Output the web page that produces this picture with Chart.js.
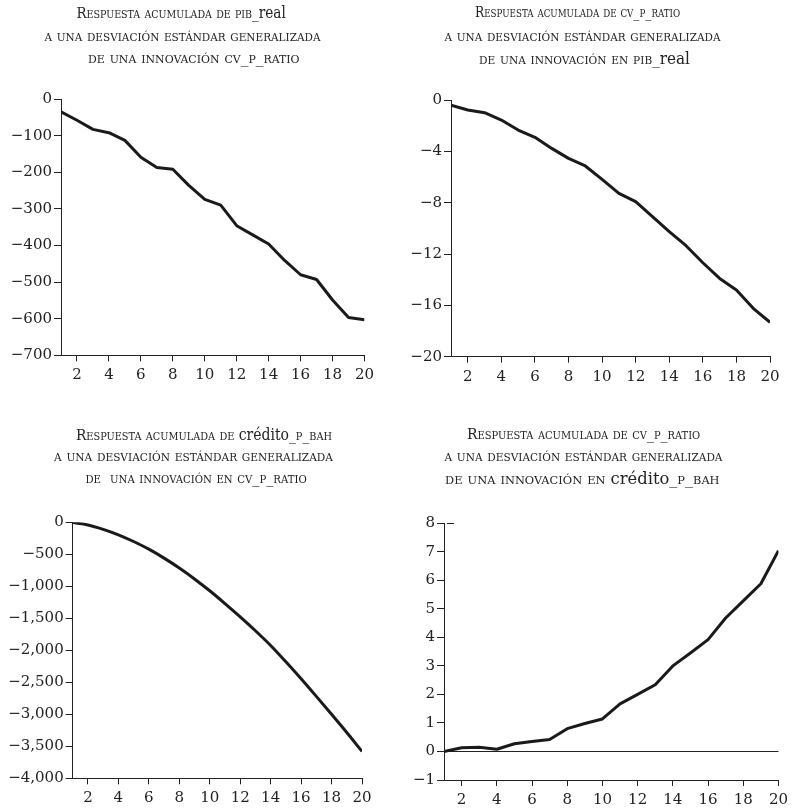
<!DOCTYPE html>
<html><head><meta charset="utf-8">
<script src="https://cdn.jsdelivr.net/npm/chart.js@4"></script>
<style>
html,body{margin:0;padding:0;background:#fff;}
#wrap{position:relative;width:793px;height:811px;overflow:hidden;background:#fff;}
canvas{position:absolute;left:0;top:0;}
.t{position:absolute;white-space:nowrap;font-family:'DejaVu Serif Condensed','DejaVu Serif',serif;font-variant:small-caps;color:#222;line-height:1;font-size:15.5px;transform-origin:50% 50%;}
.t .n{font-variant:normal;font-size:1.02em;}
.t .c{font-size:1em;}
</style></head><body>
<div id="wrap">
<canvas id="c1" width="793" height="811"></canvas>
<canvas id="c2" width="793" height="811"></canvas>
<canvas id="c3" width="793" height="811"></canvas>
<canvas id="c4" width="793" height="811"></canvas>
</div>
<script>
// ---------- data ----------
const periods = [1,2,3,4,5,6,7,8,9,10,11,12,13,14,15,16,17,18,19,20];
const xTickValues = [2,4,6,8,10,12,14,16,18,20];

// Respuesta acumulada de pib_real a una innovación cv_p_ratio
const pibRealResp = [-35,-58,-83,-92,-113,-159,-187,-192,-236,-274,-290,-346,-371,-396,-441,-480,-493,-549,-597,-603];
// Respuesta acumulada de cv_p_ratio a una innovación en pib_real
const cvRatioRespPib = [-0.4,-0.78,-0.99,-1.56,-2.34,-2.91,-3.77,-4.55,-5.14,-6.18,-7.27,-7.92,-9.09,-10.26,-11.35,-12.68,-13.9,-14.8,-16.23,-17.32];
// Respuesta acumulada de crédito_p_bah a una innovación en cv_p_ratio
const creditoResp = [-5,-42,-110,-195,-300,-420,-560,-715,-885,-1070,-1270,-1478,-1695,-1925,-2180,-2445,-2720,-3000,-3285,-3580];
// Respuesta acumulada de cv_p_ratio a una innovación en crédito_p_bah
const cvRatioRespCredito = [0,0.13,0.15,0.08,0.27,0.35,0.42,0.80,0.98,1.14,1.67,2.0,2.34,3.0,3.45,3.92,4.68,5.28,5.88,7.04];

const yTicks1 = [0,-100,-200,-300,-400,-500,-600,-700];
const yTicks2 = [0,-4,-8,-12,-16,-20];
const yTicks3 = [0,-500,-1000,-1500,-2000,-2500,-3000,-3500,-4000];
const yTicks4 = [8,7,6,5,4,3,2,1,0,-1];

// [html, center x, baseline y, width]
const titles = [
  ["<span class=c>R</span>espuesta acumulada de pib_<span class=n>real</span>", 180.5, 18.3, 209],
  ["a una desviación estándar generalizada", 182, 42, 276],
  ["de una innovación cv_p_ratio", 194, 64, 212],
  ["<span class=c>R</span>espuesta acumulada de cv_p_ratio", 577, 18.3, 205],
  ["a una desviación estándar generalizada", 582, 42, 276],
  ["de una innovación en pib_<span class=n>real</span>", 584, 64, 211],
  ["<span class=c>R</span>espuesta acumulada de <span class=n>crédito</span>_p_bah", 204, 440, 256],
  ["a una desviación estándar generalizada", 193.5, 462, 279],
  ["de&nbsp; una innovación en cv_p_ratio", 196, 484, 221],
  ["<span class=c>R</span>espuesta acumulada de cv_p_ratio", 583.5, 440, 233],
  ["a una desviación estándar generalizada", 583.5, 462, 278],
  ["de una innovación en <span class=n>crédito</span>_p_bah", 582.5, 484, 275]
];

// ---------- titles ----------
const wrap = document.getElementById('wrap');
const FS = 15.5;
titles.forEach(([html, cx, base, tw]) => {
  const d = document.createElement('div');
  d.className = 't';
  d.innerHTML = html;
  wrap.appendChild(d);
  const w = d.offsetWidth;
  d.style.left = (cx - w / 2) + 'px';
  d.style.top = (base - 0.846 * FS) + 'px';
  d.style.transform = 'scaleX(' + (tw / w) + ')';
});

// ---------- charts ----------
const fmt = v => (v < 0 ? '\u2212' : '') + Math.abs(v).toLocaleString('en-US');
const tickFont = {family: "'DejaVu Serif', serif", size: 15};
const X_H = 32;

function makeChart(id, values, yTicks, area, extra) {
  extra = extra || {};
  const Y_W = Math.min(72, Math.floor(area.left) - 1);
  const plugins = [];
  if (extra.topDash) {
    plugins.push({
      id: 'topDash',
      afterDraw(chart) {
        const y = Math.round(chart.scales.y.getPixelForValue(yTicks[0]));
        const ctx = chart.ctx;
        ctx.save();
        ctx.strokeStyle = '#222';
        ctx.lineWidth = 1;
        ctx.beginPath();
        ctx.moveTo(chart.chartArea.left + 3, y + 0.5);
        ctx.lineTo(chart.chartArea.left + 10, y + 0.5);
        ctx.stroke();
        ctx.restore();
      }
    });
  }
  return new Chart(document.getElementById(id), {
    type: 'line',
    data: {
      datasets: [{
        data: periods.map((p, i) => ({x: p, y: values[i]})),
        borderColor: '#1a1a1a',
        borderWidth: 3,
        pointRadius: 0,
        tension: extra.smooth ? 0.4 : 0,
        cubicInterpolationMode: extra.smooth ? 'monotone' : 'default',
        fill: false,
        borderJoinStyle: 'round',
        borderCapStyle: 'butt'
      }]
    },
    options: {
      responsive: false,
      animation: false,
      devicePixelRatio: 1,
      layout: {padding: {
        left: area.left - Y_W,
        right: 793 - area.right,
        top: area.top,
        bottom: 811 - area.bottom - X_H
      }},
      plugins: {legend: {display: false}, tooltip: {enabled: false}, title: {display: false}},
      scales: {
        x: {
          type: 'linear', min: 1, max: 20,
          afterBuildTicks: s => { s.ticks = xTickValues.map(v => ({value: v})); },
          afterFit: s => { s.height = X_H; },
          border: {display: true, color: '#222', width: 1},
          grid: {drawOnChartArea: false, drawTicks: true, tickLength: 6, tickColor: '#222', tickWidth: 1},
          ticks: {autoSkip: false, maxRotation: 0, padding: 5, color: '#222', font: tickFont,
                  callback: v => String(v)}
        },
        y: {
          type: 'linear', min: yTicks[yTicks.length - 1], max: yTicks[0],
          afterBuildTicks: s => { s.ticks = yTicks.map(v => ({value: v})); },
          afterFit: s => { s.width = Y_W; },
          border: {display: true, color: '#222', width: 1},
          grid: {
            drawOnChartArea: !!extra.zeroLine, drawTicks: true, tickLength: 7, tickWidth: 1,
            tickColor: '#222',
            color: c => (extra.zeroLine && c.tick && c.tick.value === 0) ? '#222' : 'rgba(0,0,0,0)'
          },
          ticks: {autoSkip: false, padding: 2, color: '#222', font: tickFont, callback: v => fmt(v)}
        }
      }
    },
    plugins: plugins
  });
}

makeChart('c1', pibRealResp, yTicks1, {left: 61, right: 364.5, top: 99, bottom: 355.3});
makeChart('c2', cvRatioRespPib, yTicks2, {left: 451, right: 770, top: 100, bottom: 356.7});
makeChart('c3', creditoResp, yTicks3, {left: 72.7, right: 362, top: 522.3, bottom: 778.3}, {smooth: true});
makeChart('c4', cvRatioRespCredito, yTicks4, {left: 444, right: 780, top: 523.3, bottom: 780}, {zeroLine: true, topDash: true});
</script>
</body></html>
